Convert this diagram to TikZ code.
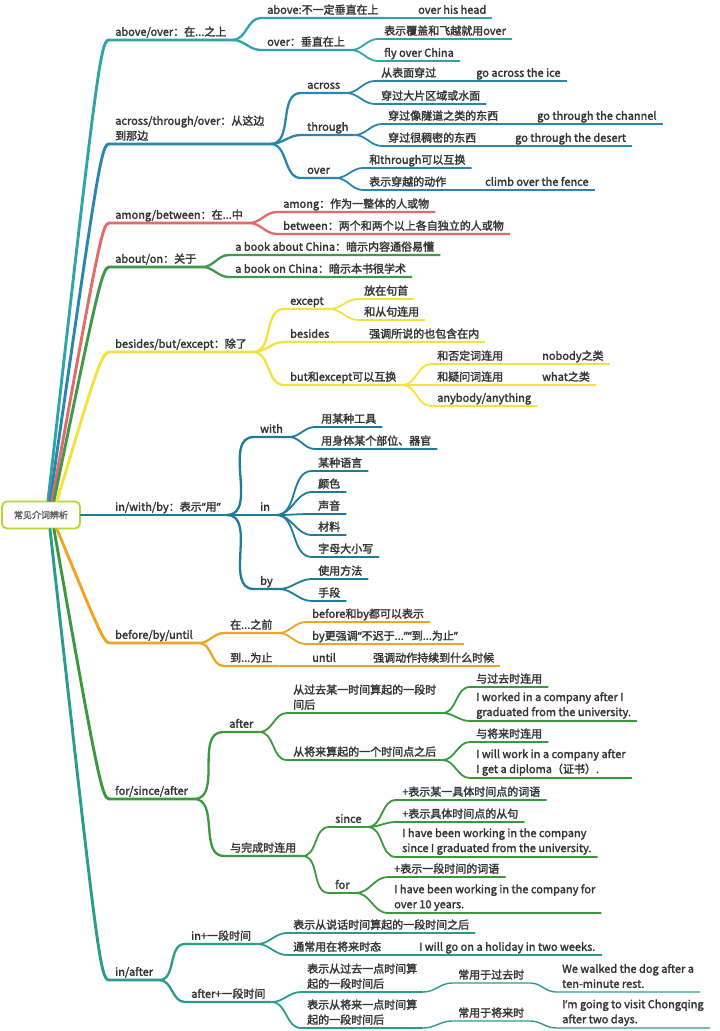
\documentclass[tikz,border=0pt]{standalone}
\usepackage{fontspec}
\setmainfont{Noto Sans CJK SC}[FakeBold=2]
\newfontfamily\latinq{Noto Sans}[FakeBold=2]
\definecolor{cA}{HTML}{30A5A8}
\definecolor{cB}{HTML}{2A86B0}
\definecolor{cC}{HTML}{E26A6A}
\definecolor{cD}{HTML}{3E9A4A}
\definecolor{cE}{HTML}{F4E23C}
\definecolor{cF}{HTML}{1F7B9A}
\definecolor{cG}{HTML}{EFA520}
\definecolor{cH}{HTML}{3A993A}
\definecolor{cI}{HTML}{2A9C8E}
\definecolor{rootc}{HTML}{BAD434}
\definecolor{txt}{HTML}{333333}
\newcommand\fs{\fontsize{11}{15}\selectfont}
\newcommand\lowstrut{\rule[-2pt]{0pt}{2pt}}
\newcommand\ql{{\latinq “}}
\newcommand\qr{{\latinq ”}}
\newcommand\mlink[3]{\draw[#1] (#2.south east) to[out=0,in=180] (#3.south west) -- (#3.south east);}
\begin{document}
\begin{tikzpicture}[x=1pt,y=-1pt,
  nd/.style={anchor=south west, inner xsep=6pt, inner ysep=2pt, text height=8.5pt, text depth=2pt, font=\fs, text=txt},
  ndm/.style={anchor=south west, inner xsep=6pt, inner ysep=2pt, font=\fs, text=txt, align=left},
  w1/.style={line width=2.9pt, line cap=round},
  w2/.style={line width=2.3pt},
  w3/.style={line width=1.8pt},
  w4/.style={line width=1.4pt},
  rootbox/.style={draw=rootc, line width=1.8pt, rounded corners=5pt, fill=white, minimum width=78pt, minimum height=27pt, inner sep=0pt, font=\fontsize{9}{11}\selectfont, text=txt!80}
]
\useasboundingbox (0,0) rectangle (720,1031);

\node[rootbox] (root) at (41,515) {常见介词辨析};

% main branches
\node[nd] (A1) at (109,40) {above/over：在...之上};
\node[ndm] (A2) at (109,144) {across/through/over：从这边\\到那边\lowstrut};
\node[nd] (A3) at (109,223) {among/between：在...中};
\node[nd] (A4) at (109,267) {about/on：关于};
\node[nd] (A5) at (109,352) {besides/but/except：除了};
\node[nd] (A6) at (109,515) {in/with/by：表示\ql 用\qr};
\node[nd] (A7) at (109,643) {before/by/until};
\node[nd] (A8) at (109,799) {for/since/after};
\node[nd] (A9) at (109,980) {in/after};

% above/over
\node[nd] (B11) at (261,18) {above:不一定垂直在上};
\node[nd] (C111) at (412,18) {over his head};
\node[nd] (B12) at (261,50) {over：垂直在上};
\node[nd] (C121) at (378,39) {表示覆盖和飞越就用over};
\node[nd] (C122) at (378,61) {fly over China};

% across
\node[nd] (B21) at (301,93) {across};
\node[nd] (C211) at (375,81) {从表面穿过};
\node[nd] (D2111) at (470,81) {go across the ice};
\node[nd] (C212) at (375,104) {穿过大片区域或水面};
\node[nd] (B22) at (301,135) {through};
\node[nd] (C221) at (382,124) {穿过像隧道之类的东西};
\node[nd] (D2211) at (531,124) {go through the channel};
\node[nd] (C222) at (382,146) {穿过很稠密的东西};
\node[nd] (D2221) at (509,146) {go through the desert};
\node[nd] (B23) at (301,178) {over};
\node[nd] (C231) at (363,168) {和through可以互换};
\node[nd] (C232) at (363,190) {表示穿越的动作};
\node[nd] (D2321) at (479,190) {climb over the fence};

% among
\node[nd] (B31) at (277,212) {among：作为一整体的人或物};
\node[nd] (B32) at (277,234) {between：两个和两个以上各自独立的人或物};

% about
\node[nd] (B41) at (229,255) {a book about China：暗示内容通俗易懂};
\node[nd] (B42) at (229,277) {a book on China：暗示本书很学术};

% besides
\node[nd] (B51) at (284,309) {except};
\node[nd] (C511) at (358,299) {放在句首};
\node[nd] (C512) at (358,320) {和从句连用};
\node[nd] (B52) at (284,342) {besides};
\node[nd] (C521) at (363,342) {强调所说的也包含在内};
\node[nd] (B53) at (284,385) {but和except可以互换};
\node[nd] (C531) at (431,364) {和否定词连用};
\node[nd] (D5311) at (536,364) {nobody之类};
\node[nd] (C532) at (431,385) {和疑问词连用};
\node[nd] (D5321) at (536,385) {what之类};
\node[nd] (C533) at (431,406) {anybody/anything};

% in/with/by
\node[nd] (B61) at (254,437) {with};
\node[nd] (C611) at (315,427) {用某种工具};
\node[nd] (C612) at (315,449) {用身体某个部位、器官};
\node[nd] (B62) at (254,515) {in};
\node[nd] (C621) at (312,471) {某种语言};
\node[nd] (C622) at (312,492) {颜色};
\node[nd] (C623) at (312,514) {声音};
\node[nd] (C624) at (312,535) {材料};
\node[nd] (C625) at (312,557) {字母大小写};
\node[nd] (B63) at (254,589) {by};
\node[nd] (C631) at (312,579) {使用方法};
\node[nd] (C632) at (312,601) {手段};

% before
\node[nd] (B71) at (224,633) {在...之前};
\node[nd] (C711) at (306,622) {before和by都可以表示};
\node[nd] (C712) at (306,644) {by更强调\ql 不迟于...\qr\ql 到...为止\qr};
\node[nd] (B72) at (224,666) {到...为止};
\node[nd] (C721) at (306,666) {until};
\node[nd] (D7211) at (367,666) {强调动作持续到什么时候};

% for/since/after
\node[nd] (B81) at (223,732) {after};
\node[ndm] (C811) at (287,713) {从过去某一时间算起的一段时\\间后\lowstrut};
\node[nd] (D8111) at (470,687) {与过去时连用};
\node[ndm] (D8112) at (470,721) {I worked in a company after I\\graduated from the university.\lowstrut};
\node[nd] (C812) at (287,760) {从将来算起的一个时间点之后};
\node[nd] (D8121) at (470,742) {与将来时连用};
\node[ndm] (D8122) at (470,778) {I will work in a company after\\I get a diploma（证书）.\lowstrut};
\node[nd] (B82) at (224,856) {与完成时连用};
\node[nd] (C821) at (329,827) {since};
\node[nd] (D8211) at (396,800) {+表示某一具体时间点的词语};
\node[nd] (D8212) at (396,822) {+表示具体时间点的从句};
\node[ndm] (D8213) at (396,857) {I have been working in the company\\since I graduated from the university.\lowstrut};
\node[nd] (C822) at (329,893) {for};
\node[nd] (D8221) at (388,877) {+表示一段时间的词语};
\node[ndm] (D8222) at (388,913) {I have been working in the company for\\over 10 years.\lowstrut};

% in/after
\node[nd] (B91) at (185,944) {in+一段时间};
\node[nd] (C911) at (287,933) {表示从说话时间算起的一段时间之后};
\node[nd] (C912) at (287,955) {通常用在将来时态};
\node[nd] (D9121) at (413,955) {I will go on a holiday in two weeks.};
\node[nd] (B92) at (185,1002) {after+一段时间};
\node[ndm] (C921) at (301,992) {表示从过去一点时间算\\起的一段时间后\lowstrut};
\node[nd] (D9211) at (452,983) {常用于过去时};
\node[ndm] (E92111) at (556,992) {We walked the dog after a\\ten-minute rest.\lowstrut};
\node[ndm] (C922) at (301,1028) {表示从将来一点时间算\\起的一段时间后\lowstrut};
\node[nd] (D9221) at (452,1021) {常用于将来时};
\node[ndm] (E92211) at (556,1028) {I{\latinq ’}m going to visit Chongqing\\after two days.\lowstrut};

% root connectors
\draw[w1,cA] ([xshift=7pt]root.north) .. controls (97,70) and (100.4,40) .. (A1.south west) -- (A1.south east);
\draw[w1,cB] ([xshift=9pt]root.north) .. controls (97,174) and (101,144) .. (A2.south west) -- (A2.south east);
\draw[w1,cC] ([xshift=11pt]root.north) .. controls (97,253) and (102,223) .. (A3.south west) -- (A3.south east);
\draw[w1,cD] ([xshift=13pt]root.north) .. controls (96,297) and (102,267) .. (A4.south west) -- (A4.south east);
\draw[w1,cE] ([xshift=16pt]root.north) .. controls (92,385) and (101,352) .. (A5.south west) -- (A5.south east);
\draw[w1,cF] (root.east) -- (A6.south west) -- (A6.south east);
\draw[w1,cG] ([xshift=16pt]root.south) .. controls (92,613) and (103,643) .. (A7.south west) -- (A7.south east);
\draw[w1,cH] ([xshift=13pt]root.south) .. controls (96,769) and (102,799) .. (A8.south west) -- (A8.south east);
\draw[w1,cI] ([xshift=9pt]root.south) .. controls (97,950) and (100,980) .. (A9.south west) -- (A9.south east);

% above/over
\mlink{w2,cA}{A1}{B11}
\mlink{w2,cA}{A1}{B12}
\mlink{w3,cA}{B11}{C111}
\mlink{w3,cA}{B12}{C121}
\mlink{w3,cA}{B12}{C122}
% across
\mlink{w2,cB}{A2}{B21}
\mlink{w2,cB}{A2}{B22}
\mlink{w2,cB}{A2}{B23}
\mlink{w3,cB}{B21}{C211}
\mlink{w3,cB}{B21}{C212}
\mlink{w3,cB}{C211}{D2111}
\mlink{w3,cB}{B22}{C221}
\mlink{w3,cB}{B22}{C222}
\mlink{w3,cB}{C221}{D2211}
\mlink{w3,cB}{C222}{D2221}
\mlink{w3,cB}{B23}{C231}
\mlink{w3,cB}{B23}{C232}
\mlink{w3,cB}{C232}{D2321}
% among
\mlink{w2,cC}{A3}{B31}
\mlink{w2,cC}{A3}{B32}
% about
\mlink{w2,cD}{A4}{B41}
\mlink{w2,cD}{A4}{B42}
% besides
\mlink{w2,cE}{A5}{B51}
\mlink{w2,cE}{A5}{B52}
\mlink{w2,cE}{A5}{B53}
\mlink{w3,cE}{B51}{C511}
\mlink{w3,cE}{B51}{C512}
\mlink{w3,cE}{B52}{C521}
\mlink{w3,cE}{B53}{C531}
\mlink{w3,cE}{B53}{C532}
\mlink{w3,cE}{B53}{C533}
\mlink{w3,cE}{C531}{D5311}
\mlink{w3,cE}{C532}{D5321}
% in/with/by
\mlink{w2,cF}{A6}{B61}
\mlink{w2,cF}{A6}{B62}
\mlink{w2,cF}{A6}{B63}
\mlink{w3,cF}{B61}{C611}
\mlink{w3,cF}{B61}{C612}
\mlink{w3,cF}{B62}{C621}
\mlink{w3,cF}{B62}{C622}
\mlink{w3,cF}{B62}{C623}
\mlink{w3,cF}{B62}{C624}
\mlink{w3,cF}{B62}{C625}
\mlink{w3,cF}{B63}{C631}
\mlink{w3,cF}{B63}{C632}
% before
\mlink{w2,cG}{A7}{B71}
\mlink{w2,cG}{A7}{B72}
\mlink{w3,cG}{B71}{C711}
\mlink{w3,cG}{B71}{C712}
\mlink{w3,cG}{B72}{C721}
\mlink{w3,cG}{C721}{D7211}
% for/since/after
\mlink{w2,cH}{A8}{B81}
\mlink{w2,cH}{A8}{B82}
\mlink{w3,cH}{B81}{C811}
\mlink{w3,cH}{B81}{C812}
\mlink{w3,cH}{C811}{D8111}
\mlink{w3,cH}{C811}{D8112}
\mlink{w3,cH}{C812}{D8121}
\mlink{w3,cH}{C812}{D8122}
\mlink{w3,cH}{B82}{C821}
\mlink{w3,cH}{B82}{C822}
\mlink{w3,cH}{C821}{D8211}
\mlink{w3,cH}{C821}{D8212}
\mlink{w3,cH}{C821}{D8213}
\mlink{w3,cH}{C822}{D8221}
\mlink{w3,cH}{C822}{D8222}
% in/after
\mlink{w2,cI}{A9}{B91}
\mlink{w2,cI}{A9}{B92}
\mlink{w3,cI}{B91}{C911}
\mlink{w3,cI}{B91}{C912}
\mlink{w3,cI}{C912}{D9121}
\mlink{w3,cI}{B92}{C921}
\mlink{w3,cI}{B92}{C922}
\mlink{w4,cI}{C921}{D9211}
\mlink{w4,cI}{D9211}{E92111}
\mlink{w4,cI}{C922}{D9221}
\mlink{w4,cI}{D9221}{E92211}
\end{tikzpicture}
\end{document}
